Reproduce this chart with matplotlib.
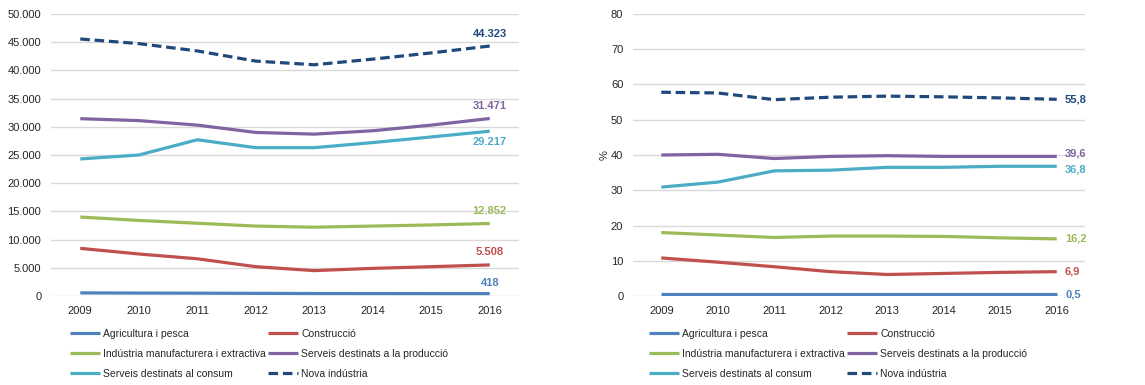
import matplotlib
matplotlib.use('Agg')
import matplotlib.pyplot as plt
from matplotlib.ticker import FuncFormatter

plt.rcParams['font.family'] = ['Liberation Sans', 'DejaVu Sans']

# data
years = ['2009', '2010', '2011', '2012', '2013', '2014', '2015', '2016']
series_names = ['Agricultura i pesca', 'Construcció',
                'Indústria manufacturera i extractiva', 'Serveis destinats a la producció',
                'Serveis destinats al consum', 'Nova indústria']

# left chart: absolute values
abs_agri = [550, 520, 500, 470, 440, 430, 425, 418]
abs_cons = [8450, 7450, 6600, 5200, 4500, 4900, 5200, 5508]
abs_ind = [14000, 13400, 12900, 12400, 12200, 12400, 12600, 12852]
abs_prod = [31440, 31100, 30300, 29000, 28700, 29300, 30300, 31471]
abs_cons_srv = [24300, 25000, 27700, 26300, 26300, 27200, 28200, 29217]
abs_nova = [45570, 44750, 43450, 41650, 41000, 42000, 43100, 44323]

# right chart: percentages
pct_agri = [0.5, 0.5, 0.5, 0.5, 0.5, 0.5, 0.5, 0.5]
pct_cons = [10.8, 9.6, 8.3, 6.9, 6.1, 6.4, 6.7, 6.9]
pct_ind = [18.0, 17.3, 16.6, 17.0, 17.0, 16.9, 16.5, 16.2]
pct_prod = [40.0, 40.2, 39.0, 39.6, 39.8, 39.6, 39.6, 39.6]
pct_cons_srv = [30.9, 32.3, 35.5, 35.7, 36.5, 36.5, 36.8, 36.8]
pct_nova = [57.8, 57.6, 55.7, 56.4, 56.7, 56.5, 56.2, 55.8]

left_labels = ['418', '5.508', '12.852', '31.471', '29.217', '44.323']
right_labels = ['0,5', '6,9', '16,2', '39,6', '36,8', '55,8']

colors = ['#4F81BD', '#C0504D', '#9BBB59', '#8064A2', '#4BACC6', '#1F497D']
styles = ['-', '-', '-', '-', '-', '--']

fig = plt.figure(figsize=(11.45, 3.85), dpi=100)
ax1 = fig.add_axes([51/1145, 1-296/385, 468/1145, 282/385])
ax2 = fig.add_axes([633/1145, 1-296/385, 452/1145, 282/385])

x = list(range(len(years)))
left_data = [abs_agri, abs_cons, abs_ind, abs_prod, abs_cons_srv, abs_nova]
right_data = [pct_agri, pct_cons, pct_ind, pct_prod, pct_cons_srv, pct_nova]

# label offsets in points (left: above/below the last point)
left_off = [8, 9, 9, 9, -8, 9]
right_off = [0, 0, 0, 2, -2, 0]

for ax, data in ((ax1, left_data), (ax2, right_data)):
    for i, vals in enumerate(data):
        ln, = ax.plot(x, vals, color=colors[i], lw=2.3, label=series_names[i],
                      solid_capstyle='butt')
        if styles[i] == '--':
            ln.set_dashes((3.0, 1.5))
    ax.set_xlim(-0.5, len(years) - 0.5)
    ax.set_xticks(x)
    ax.set_xticklabels(years)
    ax.grid(axis='y', color='#D9D9D9', lw=1)
    ax.set_axisbelow(True)
    for s in ax.spines.values():
        s.set_visible(False)
    ax.tick_params(length=0, labelsize=8, colors='#262626', pad=7)

ax1.set_ylim(0, 50000)
ax1.set_yticks(range(0, 50001, 5000))
ax1.yaxis.set_major_formatter(FuncFormatter(lambda v, p: f'{int(v):,}'.replace(',', '.')))
ax2.set_ylim(0, 80)
ax2.set_yticks(range(0, 81, 10))
ax2.set_ylabel('%', fontsize=8, color='#262626', labelpad=1)

for i, vals in enumerate(left_data):
    ax1.annotate(left_labels[i], (x[-1], vals[-1]), xytext=(0, left_off[i]),
                 textcoords='offset points', ha='center', va='center',
                 fontsize=8, fontweight='bold', color=colors[i])
for i, vals in enumerate(right_data):
    ax2.annotate(right_labels[i], (x[-1], vals[-1]), xytext=(6, right_off[i]),
                 textcoords='offset points', ha='left', va='center',
                 fontsize=8, fontweight='bold', color=colors[i], annotation_clip=False)

for ax, x0 in ((ax1, 70), (ax2, 649)):
    h, l = ax.get_legend_handles_labels()
    # reorder for row-wise filling in 2 columns
    order = [0, 2, 4, 1, 3, 5]
    ax.legend([h[k] for k in order], [l[k] for k in order], ncol=2,
              loc='upper left', bbox_to_anchor=(x0/1145, 1-329/385),
              bbox_transform=fig.transFigure, frameon=False, fontsize=7.5,
              handlelength=2.9, handletextpad=0.3, columnspacing=0.2,
              labelspacing=0.95, borderpad=0, borderaxespad=0, labelcolor='#262626')

fig.savefig('out.png', dpi=100)
